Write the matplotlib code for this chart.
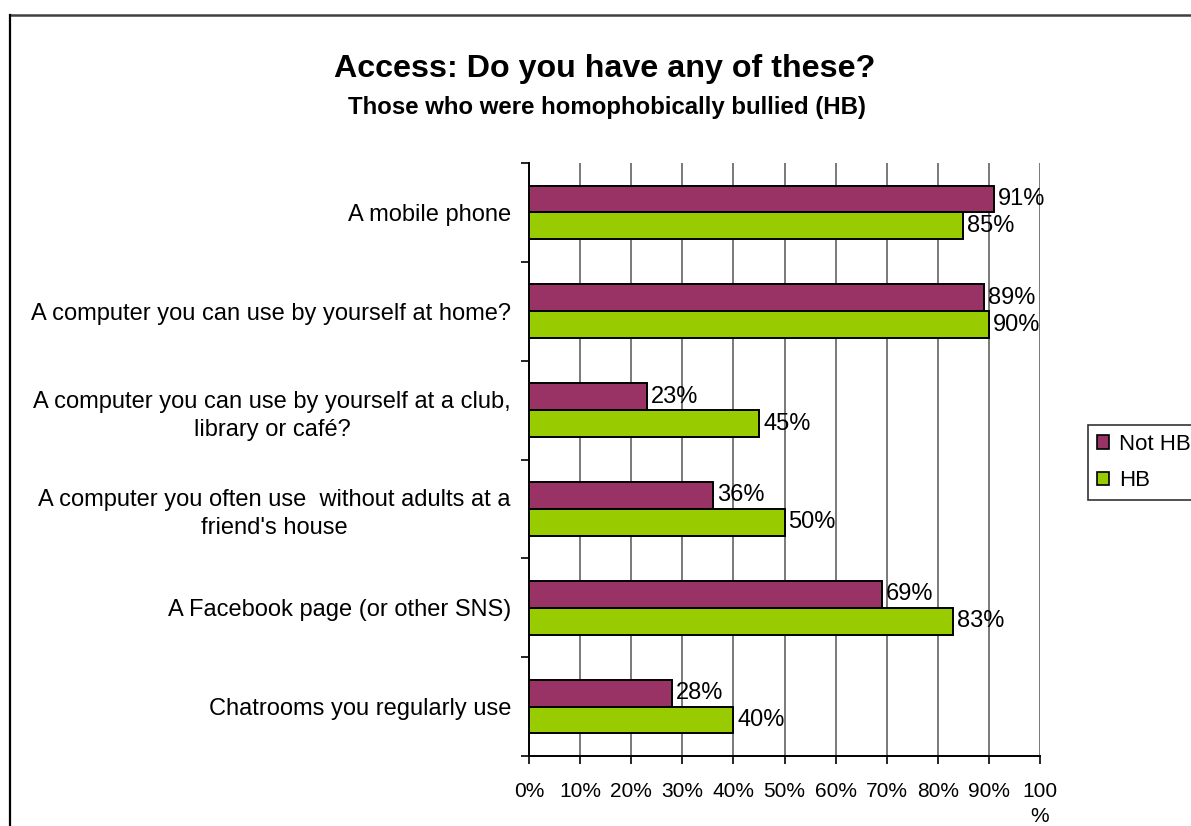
import numpy as np
import matplotlib
matplotlib.use("Agg")
import matplotlib.pyplot as plt
from matplotlib.patches import Patch
from matplotlib.lines import Line2D

plt.rcParams["font.family"] = ["Liberation Sans", "DejaVu Sans"]

categories = [
    "A mobile phone",
    "A computer you can use by yourself at home?",
    "A computer you can use by yourself at a club,\nlibrary or café?",
    "A computer you often use  without adults at a\nfriend's house",
    "A Facebook page (or other SNS)",
    "Chatrooms you regularly use",
]
not_hb = [91, 89, 23, 36, 69, 28]
hb = [85, 90, 45, 50, 83, 40]
x_ticks = [0, 10, 20, 30, 40, 50, 60, 70, 80, 90, 100]
x_tick_labels = ["0%", "10%", "20%", "30%", "40%", "50%", "60%", "70%", "80%", "90%", "100\n%"]
series_names = ["Not HB", "HB"]

purple = "#993366"
green = "#99CC00"

W, H = 1191, 826
fig = plt.figure(figsize=(W / 100, H / 100), dpi=100)
fig.patch.set_facecolor("white")

# outer chart frame (top and left edges visible)
fig.add_artist(Line2D([10 / W, 1.0], [1 - 15 / H, 1 - 15 / H], transform=fig.transFigure,
                      color="#404040", lw=1.8))
fig.add_artist(Line2D([10 / W, 10 / W], [0.0, 1 - 15 / H], transform=fig.transFigure,
                      color="black", lw=1.6))

ax = fig.add_axes([529 / W, 1 - 756 / H, 511 / W, 593 / H])

y = np.arange(len(categories))
bh = 0.272
off = 0.136
ax.barh(y - off, not_hb, height=bh, color=purple, edgecolor="black", linewidth=1.4, zorder=3)
ax.barh(y + off, hb, height=bh, color=green, edgecolor="black", linewidth=1.4, zorder=3)

for yi, v in zip(y - off, not_hb):
    ax.text(v + 0.8, yi, f"{v}%", ha="left", va="center", fontsize=17, zorder=4)
for yi, v in zip(y + off, hb):
    ax.text(v + 0.8, yi, f"{v}%", ha="left", va="center", fontsize=17, zorder=4)

ax.set_xlim(0, 100)
ax.set_ylim(len(categories) - 0.5, -0.5)

ax.set_xticks(x_ticks)
ax.set_xticklabels(x_tick_labels, fontsize=15, linespacing=1.4)
ax.tick_params(axis="x", length=6, width=1.2, pad=13, direction="out")

ax.set_yticks(np.arange(-0.5, len(categories), 1.0))
ax.set_yticklabels([])
ax.tick_params(axis="y", which="major", length=6, width=1.2, direction="out")
ax.set_yticks(y, minor=True)
ax.set_yticklabels(categories, minor=True, fontsize=17, multialignment="center",
                   linespacing=1.35)
ax.tick_params(axis="y", which="minor", length=0, pad=13)

ax.xaxis.grid(True, color="#6e6e6e", linewidth=1.3, zorder=0)
ax.set_axisbelow(True)
for s in ("top", "right"):
    ax.spines[s].set_visible(False)
for s in ("left", "bottom"):
    ax.spines[s].set_linewidth(1.4)
    ax.spines[s].set_color("black")

fig.text(605 / W, 1 - 77 / H, "Access: Do you have any of these?", ha="center",
         va="baseline", fontsize=23.2, fontweight="bold")
fig.text(607 / W, 1 - 114 / H, "Those who were homophobically bullied (HB)", ha="center",
         va="baseline", fontsize=17.3, fontweight="bold")

handles = [Patch(facecolor=purple, edgecolor="black", linewidth=1.2),
           Patch(facecolor=green, edgecolor="black", linewidth=1.2)]
leg = fig.legend(handles, series_names, loc="upper left",
                 bbox_to_anchor=(1088 / W, 1 - 425 / H), bbox_transform=fig.transFigure,
                 fontsize=16, frameon=True, fancybox=False, shadow=False,
                 handlelength=0.55, handleheight=0.55, handletextpad=0.45,
                 labelspacing=0.7, borderpad=0.4, borderaxespad=0)
leg.get_frame().set_edgecolor("black")
leg.get_frame().set_linewidth(1.2)

fig.savefig("out.png", dpi=100, facecolor="white")
